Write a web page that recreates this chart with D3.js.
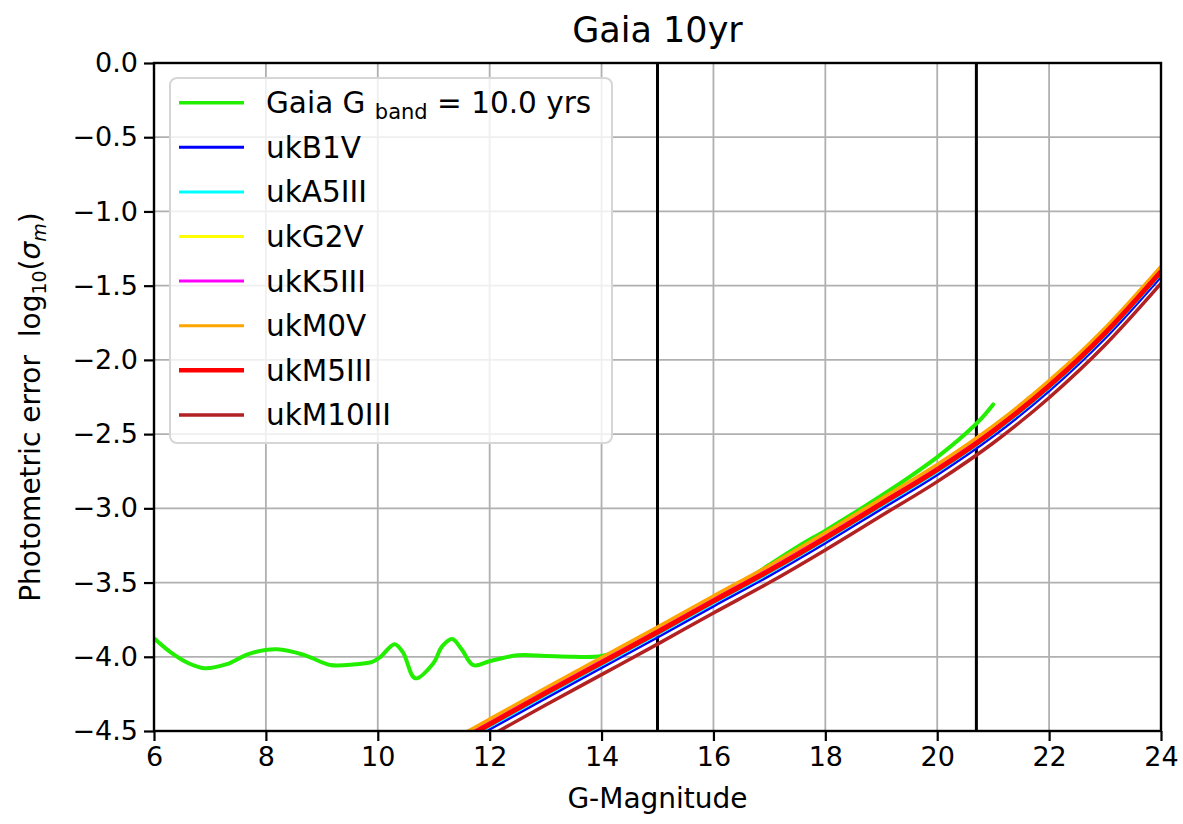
<!DOCTYPE html>
<html>
<head>
<meta charset="utf-8">
<script src="https://cdn.jsdelivr.net/npm/d3@7"></script>
<style>
  html, body { margin: 0; padding: 0; background: #fff; }
  svg { display: block; font-family: "DejaVu Sans", sans-serif; }
</style>
</head>
<body>
<svg id="chart" width="1183" height="824"></svg>
<script>
// ---- data ----
const xTicks = [6, 8, 10, 12, 14, 16, 18, 20, 22, 24];
const yTicks = [0.0, -0.5, -1.0, -1.5, -2.0, -2.5, -3.0, -3.5, -4.0, -4.5];
const vLines = [15.0, 20.7];

const gaiaMag = [6.0, 6.3, 6.6, 6.9, 7.3, 7.7, 8.2, 8.7, 9.15, 9.6, 9.9, 10.05, 10.3, 10.45, 10.67, 10.99, 11.15, 11.33, 11.5, 11.71, 12.0, 12.5, 13.0, 13.5, 14.0, 14.4, 15.0, 15.5, 16.0, 16.5, 17.0, 17.5, 18.0, 18.5, 19.0, 19.5, 20.0, 20.5, 20.8, 21.0];
const gaiaErr = [-3.875, -3.97, -4.04, -4.077, -4.05, -3.98, -3.95, -3.99, -4.055, -4.05, -4.035, -4.0, -3.915, -3.97, -4.145, -4.045, -3.93, -3.88, -3.95, -4.057, -4.03, -3.99, -3.995, -4.0, -3.995, -3.945, -3.84, -3.735, -3.625, -3.505, -3.38, -3.26, -3.15, -3.035, -2.915, -2.79, -2.655, -2.50, -2.39, -2.30];

const starMag = [11.5, 12, 13, 14, 15, 16, 17, 18, 19, 20, 21, 22, 23, 24];
const ukB1V   = [-4.595, -4.49, -4.28, -4.075, -3.87, -3.66, -3.455, -3.235, -3.005, -2.775, -2.515, -2.21, -1.855, -1.44];
const ukA5III = [-4.575, -4.47, -4.26, -4.055, -3.85, -3.64, -3.435, -3.215, -2.985, -2.755, -2.495, -2.19, -1.835, -1.42];
const ukG2V   = [-4.555, -4.45, -4.24, -4.035, -3.83, -3.62, -3.415, -3.195, -2.965, -2.735, -2.475, -2.17, -1.815, -1.40];
const ukK5III = [-4.545, -4.44, -4.23, -4.025, -3.82, -3.61, -3.405, -3.185, -2.955, -2.725, -2.465, -2.16, -1.805, -1.39];
const ukM0V   = [-4.525, -4.42, -4.21, -4.005, -3.80, -3.59, -3.385, -3.165, -2.935, -2.705, -2.445, -2.14, -1.785, -1.37];
const ukM5III = [-4.56, -4.455, -4.245, -4.04, -3.835, -3.625, -3.42, -3.20, -2.97, -2.74, -2.48, -2.175, -1.82, -1.405];
const ukM10III= [-4.64, -4.535, -4.325, -4.12, -3.915, -3.705, -3.50, -3.28, -3.05, -2.82, -2.56, -2.255, -1.90, -1.485];

const seriesNames  = ["ukB1V", "ukA5III", "ukG2V", "ukK5III", "ukM0V", "ukM5III", "ukM10III"];
const seriesValues = [ukB1V, ukA5III, ukG2V, ukK5III, ukM0V, ukM5III, ukM10III];
const seriesColors = ["#0000ff", "#00ffff", "#ffff00", "#ff00ff", "#ffa500", "#ff0000", "#b22222"];
const seriesWidths = [2.5, 3, 3, 3, 3.5, 5, 3.5];

// ---- layout ----
const svg = d3.select("#chart");
const m = { left: 154, right: 1161, top: 63, bottom: 731 };
const x = d3.scaleLinear().domain([6, 24]).range([m.left, m.right]);
const y = d3.scaleLinear().domain([-4.5, 0]).range([m.bottom, m.top]);

svg.append("defs").append("clipPath").attr("id", "clip")
  .append("rect").attr("x", m.left).attr("y", m.top)
  .attr("width", m.right - m.left).attr("height", m.bottom - m.top);

// grid
const grid = svg.append("g");
grid.selectAll(".gx").data(xTicks).join("line")
  .attr("x1", d => x(d)).attr("x2", d => x(d))
  .attr("y1", m.top).attr("y2", m.bottom)
  .attr("stroke", "#b0b0b0").attr("stroke-width", 1.8);
grid.selectAll(".gy").data(yTicks).join("line")
  .attr("x1", m.left).attr("x2", m.right)
  .attr("y1", d => y(d)).attr("y2", d => y(d))
  .attr("stroke", "#b0b0b0").attr("stroke-width", 1.8);

// vertical black lines
svg.append("g").selectAll("line").data(vLines).join("line")
  .attr("x1", d => x(d)).attr("x2", d => x(d))
  .attr("y1", m.top).attr("y2", m.bottom)
  .attr("stroke", "#000").attr("stroke-width", 3);

const plot = svg.append("g").attr("clip-path", "url(#clip)");

const line = d3.line().x(d => x(d[0])).y(d => y(d[1])).curve(d3.curveCatmullRom.alpha(0.5));
const starLine = d3.line().x(d => x(d[0])).y(d => y(d[1])).curve(d3.curveMonotoneX);

plot.append("path")
  .datum(gaiaMag.map((v, i) => [v, gaiaErr[i]]))
  .attr("d", line).attr("fill", "none")
  .attr("stroke", "#22ee00").attr("stroke-width", 4)
  .attr("stroke-linecap", "round").attr("stroke-linejoin", "round");

seriesValues.forEach((vals, k) => {
  plot.append("path")
    .datum(starMag.map((v, i) => [v, vals[i]]))
    .attr("d", starLine).attr("fill", "none")
    .attr("stroke", seriesColors[k]).attr("stroke-width", seriesWidths[k]);
});

// axes
const fmt = d3.format(".1f");
const yAxis = svg.append("g").attr("transform", `translate(${m.left},0)`)
  .call(d3.axisLeft(y).tickValues(yTicks).tickFormat(fmt).tickSize(10).tickPadding(6));
const xAxis = svg.append("g").attr("transform", `translate(0,${m.bottom})`)
  .call(d3.axisBottom(x).tickValues(xTicks).tickFormat(d3.format("d")).tickSize(10).tickPadding(6));
[xAxis, yAxis].forEach(a => {
  a.select(".domain").remove();
  a.selectAll(".tick line").attr("stroke", "#000").attr("stroke-width", 2.2);
  a.selectAll(".tick text").attr("fill", "#000")
    .style("font-family", "DejaVu Sans").style("font-size", "27px");
});

// frame
svg.append("rect").attr("x", m.left).attr("y", m.top)
  .attr("width", m.right - m.left).attr("height", m.bottom - m.top)
  .attr("fill", "none").attr("stroke", "#000").attr("stroke-width", 2.4);

// title
svg.append("text").attr("x", (m.left + m.right) / 2).attr("y", 42)
  .attr("text-anchor", "middle").style("font-size", "35px").text("Gaia 10yr");

// x label
svg.append("text").attr("x", (m.left + m.right) / 2).attr("y", 808)
  .attr("text-anchor", "middle").style("font-size", "28px").text("G-Magnitude");

// y label
const yl = svg.append("text")
  .attr("transform", `translate(40,${(m.top + m.bottom) / 2 + 10}) rotate(-90)`)
  .attr("text-anchor", "middle").style("font-size", "28px");
yl.append("tspan").text("Photometric error\u00a0\u00a0log");
yl.append("tspan").attr("dy", 6).style("font-size", "19px").text("10");
yl.append("tspan").attr("dy", -6).text("(");
yl.append("tspan").style("font-style", "italic").text("σ");
yl.append("tspan").attr("dy", 6).style("font-size", "19px").style("font-style", "italic").text("m");
yl.append("tspan").attr("dy", -6).text(")");

// legend
const legendNames = ["Gaia", ...seriesNames];
const legendColors = ["#22ee00", ...seriesColors];
const legendWidths = [3.5, 3, 3, 3, 3, 3, 4.5, 3.5];
const lg = svg.append("g");
lg.append("rect").attr("x", 170).attr("y", 78).attr("width", 442).attr("height", 365)
  .attr("rx", 7).attr("fill", "rgba(255,255,255,0.8)")
  .attr("stroke", "#d6d6d6").attr("stroke-width", 2);
legendNames.forEach((name, i) => {
  const cy = 102.7 + i * 44.6;
  lg.append("line").attr("x1", 179).attr("x2", 244).attr("y1", cy).attr("y2", cy)
    .attr("stroke", legendColors[i]).attr("stroke-width", legendWidths[i]);
  const t = lg.append("text").attr("x", 266).attr("y", cy + 10.5).style("font-size", "29.5px");
  if (i === 0) {
    t.append("tspan").text("Gaia G ");
    t.append("tspan").attr("dy", 6).style("font-size", "21px").text("band");
    t.append("tspan").attr("dy", -6).text(" = 10.0 yrs");
  } else {
    t.text(name);
  }
});
</script>
</body>
</html>
